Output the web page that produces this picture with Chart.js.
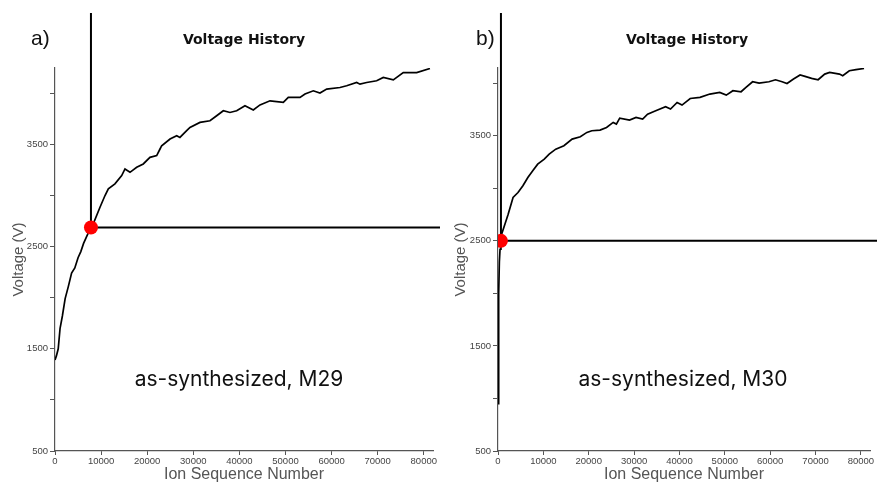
<!DOCTYPE html>
<html>
<head>
<meta charset="utf-8">
<script src="https://cdn.jsdelivr.net/npm/chart.js@4.4.1/dist/chart.umd.min.js"></script>
<style>
  body { margin: 0; background: #fff; width: 877px; height: 483px; position: relative; overflow: hidden; }
  .panel { position: absolute; top: 0; height: 483px; }
  .lbl { position: absolute; white-space: nowrap; }
  .letter { font: 21px "Liberation Sans", Arial, sans-serif; color: #111; }
  .title { font: bold 14px "DejaVu Sans", sans-serif; color: #111; width: 200px; text-align: center; }
  .note { font: 21px "Inter", "Open Sans", sans-serif; color: #111; width: 300px; text-align: center; }
</style>
</head>
<body>
<div class="panel" style="left:0;width:440px"><canvas id="chartA" width="440" height="483"></canvas></div>
<div class="panel" style="left:440px;width:437px"><canvas id="chartB" width="437" height="483"></canvas></div>

<div class="lbl letter" style="left:31px;top:26px">a)</div>
<div class="lbl title" style="left:144px;top:31px">Voltage History</div>
<div class="lbl note" style="left:89px;top:366px">as-synthesized, M29</div>

<div class="lbl letter" style="left:476px;top:26px">b)</div>
<div class="lbl title" style="left:587px;top:31px">Voltage History</div>
<div class="lbl note" style="left:533px;top:366px">as-synthesized, M30</div>

<script>
// panel a) as-synthesized M29
const seqA = [0, 300, 700, 1100, 1600, 2200, 2900, 3600, 4300, 5000, 5600, 6200, 7000, 7800,
  8300, 9760, 10850, 11570, 13000, 14470, 15180, 16270, 17720, 19150, 20600, 22060, 22780,
  23140, 24950, 26400, 27100, 28560, 29280, 31450, 33620, 35070, 36510, 37960, 39410, 41210,
  43020, 44470, 46640, 49530, 50610, 53150, 54230, 56040, 57480, 58940, 61820, 63270, 65440,
  66160, 67610, 69780, 71210, 73390, 75550, 78460, 81340];
const voltA = [1390, 1430, 1500, 1700, 1820, 1990, 2110, 2240, 2290, 2390, 2450, 2530, 2610, 2685,
  2721, 2883, 2998, 3063, 3112, 3193, 3258, 3225, 3274, 3307, 3371, 3388, 3453,
  3485, 3551, 3583, 3566, 3632, 3664, 3713, 3729, 3778, 3827, 3810, 3827, 3876,
  3834, 3884, 3924, 3908, 3957, 3957, 3990, 4022, 4000, 4039, 4054, 4071, 4103,
  4087, 4103, 4120, 4152, 4129, 4200, 4200, 4240];
const markerA = { x: 7800, y: 2685 };

// panel b) as-synthesized M30
const seqB = [0, 100, 200, 300, 450, 650, 800, 1520, 2240, 3320, 4410, 5490, 6580, 7660, 8750,
  10200, 11280, 12730, 14530, 16340, 18150, 19600, 20680, 22490, 23930, 25380, 26100, 26830,
  28990, 30430, 31890, 32970, 34770, 36940, 38030, 39480, 40560, 42370, 44530, 46700, 48870,
  50320, 51780, 53580, 54660, 56120, 57550, 59720, 61170, 62620, 63710, 65140, 66590, 67680,
  69130, 70560, 72020, 73100, 75270, 75990, 77440, 78900, 80690];
const voltB = [950, 1400, 2000, 2300, 2420, 2500, 2564, 2659, 2754, 2913, 2960, 3024, 3103, 3167, 3230,
  3278, 3325, 3373, 3405, 3468, 3490, 3532, 3548, 3554, 3579, 3627, 3611, 3668,
  3649, 3675, 3659, 3706, 3738, 3776, 3754, 3817, 3792, 3855, 3865, 3897, 3912,
  3887, 3929, 3919, 3960, 4014, 4002, 4014, 4033, 4014, 3998, 4040, 4078, 4065,
  4046, 4033, 4087, 4103, 4087, 4071, 4119, 4129, 4141];
const markerB = { x: 650, y: 2500 };

// axis ticks (y: every tick marked, only the odd five-hundreds labelled)
const xTicks = [0, 10000, 20000, 30000, 40000, 50000, 60000, 70000, 80000];
const yTicks = [500, 1000, 1500, 2000, 2500, 3000, 3500, 4000];
const yTickLabels = ['500', '', '1500', '', '2500', '', '3500', ''];

// crosshair through the marker: up to near the top, and right to the canvas edge
const crosshair = {
  id: 'crosshair',
  beforeDatasetsDraw(chart, args, opts) {
    const { ctx, scales } = chart;
    const px = scales.x.getPixelForValue(opts.marker.x);
    const py = scales.y.getPixelForValue(opts.marker.y);
    ctx.save();
    ctx.strokeStyle = '#000';
    ctx.lineWidth = 2;
    ctx.beginPath();
    ctx.moveTo(px, 13);
    ctx.lineTo(px, py);
    ctx.moveTo(px, py);
    ctx.lineTo(chart.width, py);
    ctx.stroke();
    ctx.restore();
  }
};

function makeChart(id, seq, volt, marker, yMax, yWidth, padRight, titlePad) {
  const tickFont = { family: 'Liberation Sans', size: 9.5 };
  return new Chart(document.getElementById(id), {
    type: 'line',
    data: {
      datasets: [
        {
          data: [marker],
          showLine: false,
          pointRadius: 7,
          pointBackgroundColor: '#f00',
          pointBorderWidth: 0
        },
        {
          data: seq.map((s, i) => ({ x: s, y: volt[i] })),
          borderColor: '#000',
          borderWidth: 1.7,
          pointRadius: 0,
          tension: 0
        }
      ]
    },
    options: {
      responsive: false,
      animation: false,
      layout: { padding: { top: 68, right: padRight, left: 0, bottom: 0 } },
      plugins: {
        legend: { display: false },
        tooltip: { enabled: false },
        crosshair: { marker }
      },
      scales: {
        x: {
          type: 'linear',
          min: 0,
          max: 82000,
          afterBuildTicks: (s) => { s.ticks = xTicks.map((v) => ({ value: v })); },
          afterFit: (s) => { s.height = 32; },
          border: { color: '#555', width: 1.2 },
          grid: { drawOnChartArea: false, tickLength: 4, color: '#555' },
          ticks: { autoSkip: false, maxRotation: 0, padding: 1, color: '#444', font: tickFont,
            callback: (v) => String(v) },
          title: { display: true, text: 'Ion Sequence Number', color: '#555',
            font: { family: 'Liberation Sans', size: 16, lineHeight: 1 }, padding: { top: 0, bottom: 0 } }
        },
        y: {
          min: 500,
          max: yMax,
          afterBuildTicks: (s) => { s.ticks = yTicks.map((v) => ({ value: v })); },
          afterFit: (s) => { s.width = yWidth; },
          border: { color: '#555', width: 1.2 },
          grid: { drawOnChartArea: false, tickLength: 5, color: '#555' },
          ticks: { autoSkip: false, padding: 2, color: '#444', font: tickFont,
            callback: (v) => yTickLabels[yTicks.indexOf(v)] },
          title: { display: true, text: 'Voltage (V)', color: '#555',
            font: { family: 'Liberation Sans', size: 15, lineHeight: 1 }, padding: { top: titlePad, bottom: 0 } }
        }
      }
    },
    plugins: [crosshair]
  });
}

makeChart('chartA', seqA, voltA, markerA, 4245, 55, 7, 11);
makeChart('chartB', seqB, voltB, markerB, 4145, 58, 1, 13);
</script>
</body>
</html>
